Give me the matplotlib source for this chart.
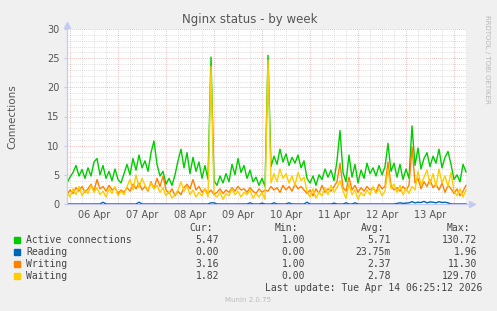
#!/usr/bin/env python3
"""Munin style 'Nginx status - by week' chart, rebuilt with matplotlib."""
import matplotlib
matplotlib.use("Agg")
import matplotlib.pyplot as plt
import pandas as pd
from matplotlib.lines import Line2D
from matplotlib.patches import Rectangle

# --- data (one sample per 90 minutes) ---------------------------------------
active = [
    3.6, 4.6, 5.4, 6.6, 4.8, 5.9, 4.4, 6.2, 4.8, 7.2,
    7.8, 5.0, 6.6, 4.4, 5.6, 4.0, 6.0, 4.2, 3.6, 5.2,
    6.8, 5.0, 7.8, 5.8, 8.4, 6.2, 7.4, 5.6, 8.8, 10.8,
    6.8, 4.8, 5.6, 3.4, 4.4, 3.2, 5.0, 7.4, 9.4, 6.2,
    8.8, 5.2, 8.0, 5.6, 7.2, 4.4, 6.6, 4.2, 25.2, 4.0,
    3.2, 4.8, 3.6, 5.2, 3.8, 6.8, 5.0, 7.8, 5.4, 6.6,
    4.4, 5.8, 3.8, 4.6, 3.2, 4.4, 3.0, 25.5, 6.4, 8.2,
    6.8, 9.4, 7.2, 8.6, 6.6, 8.0, 7.0, 8.4, 6.2, 7.4,
    4.4, 3.6, 4.8, 3.2, 5.0, 4.2, 6.0, 4.6, 5.8, 4.0,
    7.4, 12.6, 5.4, 3.8, 8.4, 4.6, 6.8, 3.6, 5.8, 4.4,
    7.0, 5.2, 6.2, 4.8, 6.6, 5.0, 6.4, 10.4, 5.6, 7.0,
    4.6, 6.8, 4.2, 6.0, 4.4, 13.4, 6.6, 9.6, 6.0, 7.8,
    8.8, 6.4, 8.2, 7.0, 9.4, 6.2, 8.0, 9.0, 6.8, 4.2,
    5.0, 3.8, 6.8, 5.5,
]
reading = [
    0, 0, 0, 0, 0, 0, 0, 0, 0, 0,
    0, 0, 0.3, 0, 0, 0, 0, 0, 0, 0,
    0, 0, 0, 0, 0.3, 0, 0, 0, 0, 0,
    0, 0, 0, 0, 0, 0, 0, 0, 0, 0,
    0, 0, 0, 0, 0, 0, 0, 0, 0.2, 0.2,
    0, 0, 0, 0, 0, 0, 0, 0, 0, 0,
    0, 0.2, 0, 0, 0, 0.15, 0, 0, 0, 0.2,
    0, 0, 0, 0, 0.2, 0, 0, 0, 0, 0,
    0.3, 0, 0, 0, 0, 0, 0, 0, 0, 0.15,
    0, 0, 0, 0.2, 0, 0, 0.2, 0, 0, 0,
    0, 0, 0, 0, 0, 0, 0, 0, 0, 0,
    0.1, 0.2, 0.1, 0.15, 0.2, 0.4, 0.2, 0.3, 0.25, 0.45,
    0.2, 0.35, 0.3, 0.2, 0.4, 0.25, 0.3, 0.2, 0, 0,
    0, 0, 0, 0,
]
writing = [
    1.6, 2.4, 1.8, 2.8, 2.2, 3.0, 2.0, 2.6, 3.4, 2.2,
    4.2, 2.6, 3.0, 2.2, 3.2, 2.4, 2.8, 1.8, 2.4, 2.0,
    2.8, 2.2, 3.4, 2.6, 3.6, 2.4, 3.0, 2.2, 3.8, 2.6,
    4.4, 3.0, 4.8, 2.4, 1.8, 2.6, 1.4, 2.2, 1.6, 2.8,
    3.4, 2.6, 4.2, 2.4, 3.0, 2.0, 2.6, 1.8, 2.4, 1.6,
    2.0, 2.6, 1.8, 2.4, 2.0, 2.8, 2.2, 3.0, 2.4, 2.6,
    2.0, 2.8, 2.2, 1.8, 2.6, 2.0, 2.4, 2.2, 3.0, 2.4,
    2.8, 2.0, 3.2, 2.4, 3.0, 2.2, 3.4, 2.6, 3.0, 2.4,
    1.8, 2.4, 1.4, 2.6, 1.8, 3.2, 2.0, 2.6, 2.2, 3.0,
    3.8, 7.0, 2.8, 2.2, 4.6, 2.4, 3.2, 2.0, 2.8, 2.2,
    3.0, 2.4, 2.8, 2.0, 3.4, 2.6, 3.0, 7.2, 3.2, 2.4,
    2.8, 2.2, 3.0, 2.4, 3.2, 9.8, 3.6, 4.4, 2.6, 3.8,
    3.0, 4.2, 2.8, 3.4, 2.4, 3.6, 2.0, 3.2, 2.6, 1.8,
    2.6, 1.4, 2.2, 3.2,
]
waiting = [
    2.0, 1.2, 2.6, 1.6, 3.0, 1.4, 2.4, 1.8, 3.2, 2.0,
    2.8, 1.6, 2.2, 1.2, 2.6, 1.8, 3.0, 1.4, 2.2, 1.6,
    3.0, 4.2, 2.4, 5.0, 2.8, 4.4, 3.2, 2.4, 3.6, 2.6,
    3.2, 2.0, 2.8, 1.4, 2.2, 1.0, 1.6, 2.4, 3.8, 2.2,
    3.0, 1.6, 2.4, 1.2, 2.0, 1.4, 2.6, 1.2, 23.6, 1.6,
    1.2, 2.0, 0.8, 1.8, 1.4, 2.6, 1.6, 2.2, 1.2, 2.0,
    1.6, 2.4, 1.0, 1.8, 1.2, 2.0, 0.8, 24.6, 3.6, 5.2,
    3.8, 6.0, 4.4, 5.2, 3.6, 4.8, 3.2, 5.4, 4.0, 4.6,
    2.2, 1.2, 2.6, 1.0, 2.0, 1.4, 2.8, 1.6, 3.2, 2.0,
    2.8, 4.0, 2.2, 1.0, 3.4, 1.6, 2.4, 0.8, 2.0, 1.4,
    2.4, 1.6, 3.0, 1.8, 2.6, 1.4, 2.2, 5.8, 2.6, 3.4,
    2.0, 3.2, 1.6, 2.8, 1.8, 3.0, 2.4, 5.6, 3.2, 4.6,
    5.8, 3.4, 5.2, 3.0, 6.0, 3.6, 4.8, 3.0, 5.4, 2.2,
    1.4, 2.6, 1.2, 2.4,
]

series_names = ["Active connections", "Reading", "Writing", "Waiting"]
cur = ["5.47", "0.00", "3.16", "1.82"]
vmin = ["1.00", "0.00", "1.00", "0.00"]
vavg = ["5.71", "23.75m", "2.37", "2.78"]
vmax = ["130.72", "1.96", "11.30", "129.70"]
day_labels = ["06 Apr", "07 Apr", "08 Apr", "09 Apr", "10 Apr", "11 Apr", "12 Apr", "13 Apr"]

COLORS = ["#00CC00", "#0066B3", "#FF8000", "#FFCC00"]
BG = "#F0F0F0"
AXIS = "#C4CAF2"
TXT = "#555555"

W, H = 497, 311
start = pd.Timestamp("2026-04-05 22:30")
end = start + pd.Timedelta(hours=200)
times = pd.date_range(start, periods=len(active), freq="90min")


def fx(px):
    return px / W


def fy(py):
    return 1 - py / H


fig = plt.figure(figsize=(W / 100, H / 100), dpi=100, facecolor=BG)
ax = fig.add_axes([fx(67), fy(204), 400 / W, 175 / H], facecolor="white")
ax.set_xlim(start, end)
ax.set_ylim(0, 30)

# grid, rrdtool style
for v in range(1, 31):
    major = v % 5 == 0
    ax.axhline(v, color="#E8A8A8" if major else "#D2D2D2", lw=0.6,
               ls=(0, (1, 1.5)), zorder=0)
t = pd.Timestamp("2026-04-06 00:00")
k = 0
while t < end:
    ax.axvline(t, color="#E8A8A8" if k % 4 == 0 else "#D2D2D2", lw=0.6,
               ls=(0, (1, 1.5)), zorder=0)
    t += pd.Timedelta(hours=6)
    k += 1

for vals, col in zip([active, reading, writing, waiting], COLORS):
    ax.plot(times, vals, color=col, lw=1.0, zorder=3)

for s in ["top", "right"]:
    ax.spines[s].set_visible(False)
for s in ["left", "bottom"]:
    ax.spines[s].set_color(AXIS)
    ax.spines[s].set_linewidth(0.8)

ax.set_yticks(range(0, 31, 5))
ax.set_yticklabels([str(v) for v in range(0, 31, 5)], fontsize=7, color=TXT)
noons = [pd.Timestamp("2026-04-%02d 12:00" % d) for d in range(6, 14)]
ax.set_xticks(noons)
ax.set_xticklabels(day_labels, fontsize=7, color=TXT)
ax.tick_params(axis="x", length=0, pad=4)
ax.tick_params(axis="y", length=2.5, color=AXIS, pad=3)
ax.set_ylabel("Connections", fontsize=7.5, color=TXT, labelpad=21)

# axis arrows
fig.add_artist(Line2D([fx(67), fx(67)], [fy(204), fy(24)], color=AXIS, lw=0.8))
fig.add_artist(Line2D([fx(467), fx(472)], [fy(204), fy(204)], color=AXIS, lw=0.8))
fig.add_artist(Line2D([fx(67)], [fy(25)], marker="^", ms=4, color=AXIS, mec=AXIS))
fig.add_artist(Line2D([fx(472)], [fy(204)], marker=">", ms=4, color=AXIS, mec=AXIS))

fig.text(fx(250), fy(19), "Nginx status - by week", fontsize=8.5, color=TXT,
         ha="center", va="center")
fig.text(fx(487), fy(15), "RRDTOOL / TOBI OETIKER", fontsize=5, color="#B8B8B8",
         rotation=270, ha="center", va="top")

# legend block
mono = dict(family="DejaVu Sans Mono", fontsize=7, color="#444444")
for xr, h in zip([213, 298, 384, 470], ["Cur:", "Min:", "Avg:", "Max:"]):
    fig.text(fx(xr), fy(228), h, ha="right", va="center", **mono)
rows = [240, 252, 264, 276]
for i, name in enumerate(series_names):
    y = rows[i]
    fig.add_artist(Rectangle((fx(14), fy(y + 3)), 6 / W, 6 / H, color=COLORS[i]))
    fig.text(fx(26), fy(y), name, ha="left", va="center", **mono)
    for xr, val in zip([219, 305, 391, 477], [cur[i], vmin[i], vavg[i], vmax[i]]):
        fig.text(fx(xr), fy(y), val, ha="right", va="center", **mono)
fig.text(fx(482), fy(288), "Last update: Tue Apr 14 06:25:12 2026", ha="right",
         va="center", **mono)
fig.text(fx(248), fy(300), "Munin 2.0.75", fontsize=5, color="#BBBBBB",
         ha="center", va="center")

fig.savefig("out.png", dpi=100, facecolor=BG)
